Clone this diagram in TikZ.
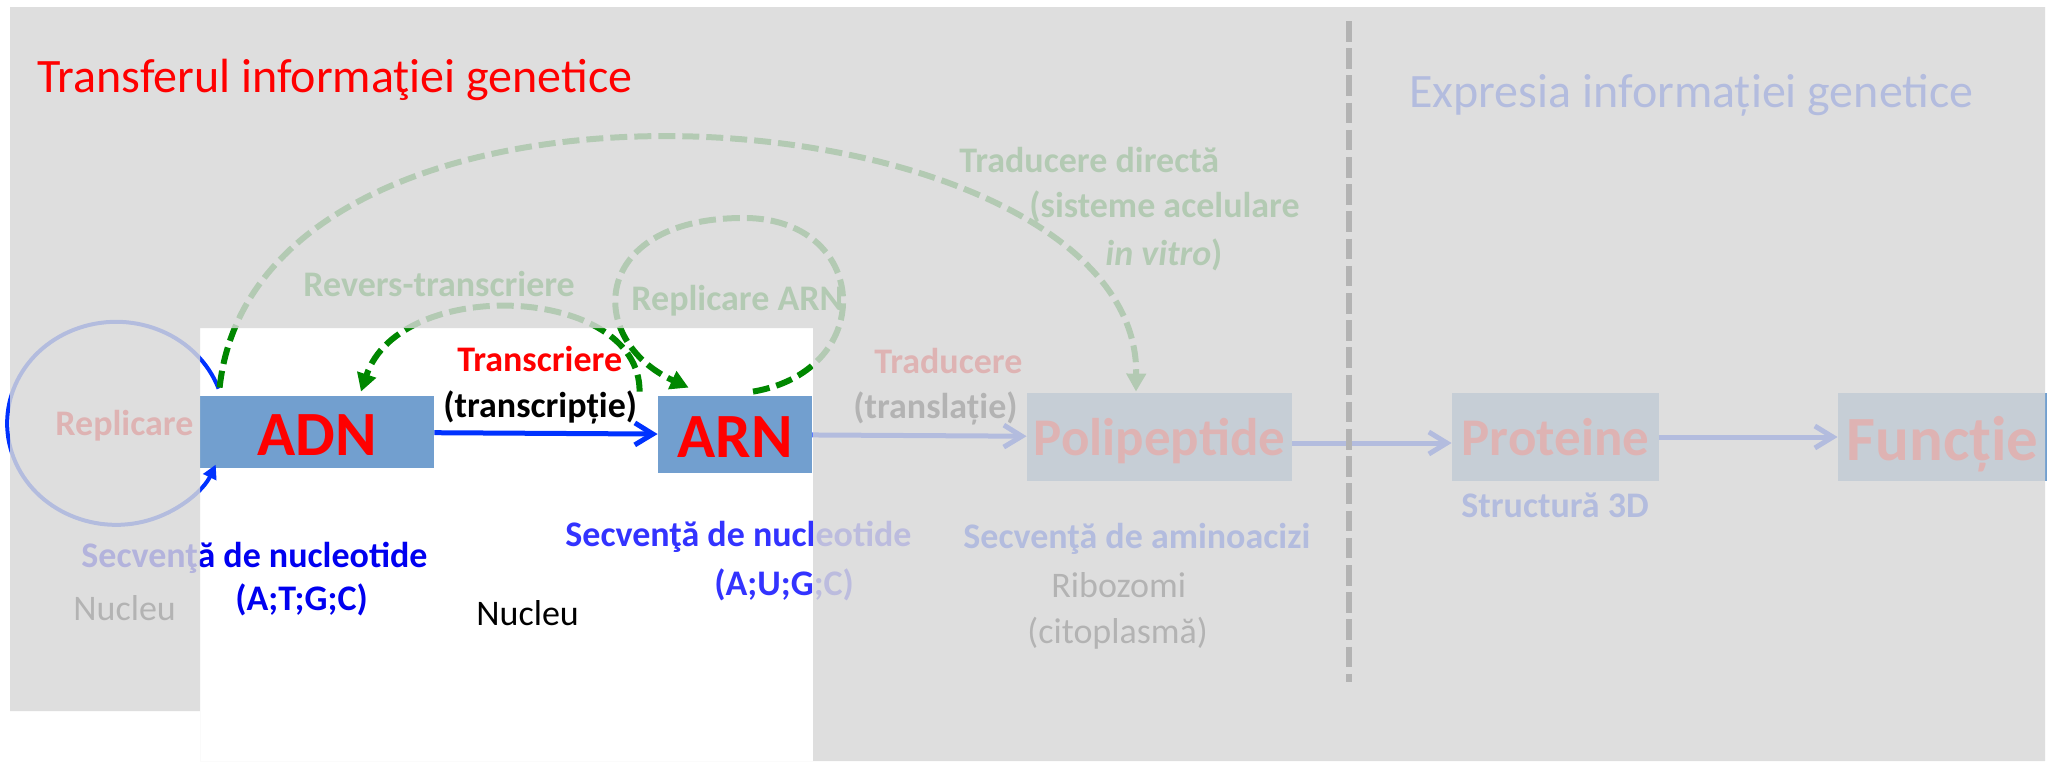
\documentclass[tikz,border=0pt]{standalone}
\usepackage{fontspec}
\setmainfont{Carlito}
\usetikzlibrary{arrows.meta}
\definecolor{boxblue}{RGB}{114,159,207}
\definecolor{arrblue}{RGB}{0,50,255}
\definecolor{txtblue}{RGB}{0,0,240}
\definecolor{txtblueb}{RGB}{51,51,255}
\definecolor{dkgreen}{RGB}{0,135,0}
\definecolor{veil}{RGB}{216,216,216}
\begin{document}
\begin{tikzpicture}[x=0.5pt,y=-0.5pt,
  box/.style={fill=boxblue,inner sep=0pt,text=red,text height=23pt,text depth=0pt,font=\bfseries\fontsize{31.5}{31.5}\selectfont},
  midbox/.style={box,text height=18pt,font=\bfseries\fontsize{26.5}{26.5}\selectfont},
  lbl/.style={anchor=base west,inner sep=0pt,font=\bfseries\fontsize{18}{18}\selectfont},
  plain/.style={anchor=base west,inner sep=0pt,font=\fontsize{18}{18}\selectfont},
  bigtitle/.style={anchor=base west,inner sep=0pt,font=\fontsize{24}{24}\selectfont},
  flow/.style={arrblue,line width=2.5pt,-{Straight Barb[length=9pt,width=11pt]}},
  greenpath/.style={dkgreen,line width=3pt,dash pattern=on 8.5pt off 3.5pt,-{Triangle[length=9pt,width=9.5pt]}}]
\clip (0,0) rectangle (2047,761);
\fill[white] (0,0) rectangle (2047,761);

\node[box,minimum width=117pt,minimum height=36pt] (adn) at (317,432) {ADN};
\node[box,minimum width=77pt,minimum height=38.5pt] (arn) at (735,434.5) {ARN};
\node[midbox,minimum width=132.5pt,minimum height=44pt] (poli) at (1159.5,437) {Polipeptide};
\node[midbox,minimum width=103.5pt,minimum height=44pt] (prot) at (1555.5,437) {Proteine};
\node[box,minimum width=104.5pt,minimum height=44pt] (func) at (1942.5,437) {Funcție};

\draw[flow] (adn) -- (arn);
\draw[flow] (arn) -- (poli);
\draw[flow] ([yshift=-3pt]poli.east) -- ([yshift=-3pt]prot.west);
\draw[flow] (prot) -- (func);
\draw[arrblue,line width=2pt,-{Triangle[length=7pt,width=7pt]}] ([shift={(19,-7)}]adn.north west)
  arc[start angle=-20,end angle=-336,x radius=109,y radius=101.5];

\draw[greenpath] ([shift={(20,-8)}]adn.north west) .. controls (260,20) and (1140,90) .. ([shift={(-23.5,-1)}]poli.north);
\draw[greenpath] ([shift={(-18,-4)}]arn.north west) .. controls (640,285) and (400,275) .. ([shift={(44,-4)}]adn.north);
\draw[greenpath] ([shift={(18,-4)}]arn.north) .. controls (880,370) and (870,215) .. (740,218)
  .. controls (590,220) and (585,340) .. ([shift={(31,-8)}]arn.north west);

\draw[black,line width=2.8pt,dash pattern=on 10.3pt off 3.3pt] (1349,21) -- (1349,682);

\node[lbl,red] (repl) at (55,435) {Replicare};
\node[lbl,red] (transc) at (457,371) {Transcriere};
\node[lbl] (transcp) at (443,417) {(transcripție)};
\node[lbl,red] (trad) at (874,373) {Traducere};
\node[lbl] (tradp) at (853,418) {(translație)};
\node[lbl,dkgreen] (revers) at (303,296) {Revers-transcriere};
\node[lbl,dkgreen] (replarn) at (631,310) {Replicare ARN};
\node[lbl,dkgreen] (direct) at (959,172) {Traducere directă};
\node[lbl,dkgreen] (direct2) at (1029,217) {(sisteme acelulare};
\node[lbl,dkgreen] (direct3) at (1105,265) {\textit{in vitro})};
\node[lbl,txtblue] (secadn) at (81,567) {Secvenţă de nucleotide};
\node[lbl,txtblue] (atgc) at (235,610) {(A;T;G;C)};
\node[lbl,txtblueb] (secarn) at (565,546) {Secvenţă de nucleotide};
\node[lbl,txtblueb] (augc) at (714,595) {(A;U;G;C)};
\node[lbl,arrblue] (secaa) at (963,548) {Secvenţă de aminoacizi};
\node[lbl,arrblue] (struct) at (1461,517) {Structură 3D};
\node[plain] (nucl) at (73,620) {Nucleu};
\node[plain] (nuclb) at (476,625) {Nucleu};
\node[plain] (ribo) at (1051,597) {Ribozomi};
\node[plain] (cito) at (1027,643) {(citoplasmă)};
\node[bigtitle,arrblue] (expr) at (1409,107) {Expresia informației genetice};

\fill[veil,fill opacity=0.83,even odd rule] (10,7) rectangle (200,711) (200,7) rectangle (2045,761) (200,328) rectangle (813,761);

\node[bigtitle,red] (title) at (37,92) {Transferul informaţiei genetice};
\end{tikzpicture}
\end{document}
